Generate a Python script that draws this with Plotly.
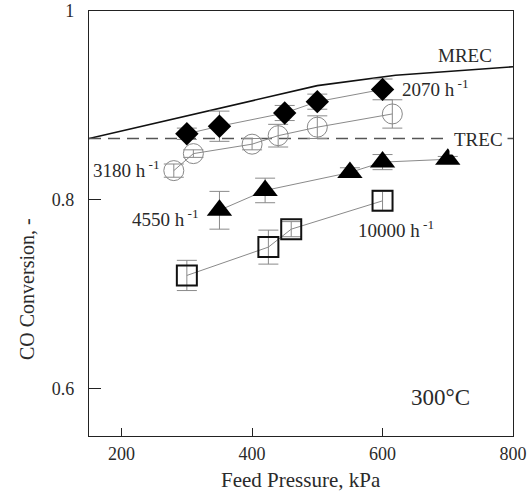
import plotly.graph_objects as go

# ---- data ----
p_2070 = [300, 350, 450, 500, 600]
x_2070 = [0.870, 0.878, 0.892, 0.904, 0.917]
e_2070 = [0.006, 0.016, 0.008, 0.008, 0.011]

p_3180 = [280, 310, 400, 440, 500, 615]
x_3180 = [0.831, 0.849, 0.859, 0.868, 0.877, 0.891]
e_3180 = [0.007, 0.004, 0.006, 0.012, 0.012, 0.015]

p_4550 = [350, 420, 550, 600, 700]
x_4550 = [0.789, 0.810, 0.829, 0.840, 0.843]
e_4550 = [0.020, 0.013, 0.005, 0.008, 0.003]

p_10000 = [300, 425, 460, 600]
x_10000 = [0.720, 0.750, 0.769, 0.799]
e_10000 = [0.016, 0.018, 0.008, 0.010]

mrec_p = [150, 500, 620, 800]
mrec_x = [0.865, 0.921, 0.932, 0.941]
trec_p = [150, 800]
trec_x = [0.865, 0.865]

x_ticks = [200, 400, 600, 800]
y_ticks = [0.6, 0.8, 1.0]
y_ticktext = ["0.6", "0.8", "1"]

FONT = "Liberation Serif, Times New Roman, serif"
GRAY = "#8a8a8a"
TXT = "#2a2a2a"

fig = go.Figure()

fig.add_trace(go.Scatter(x=mrec_p, y=mrec_x, mode="lines",
                         line=dict(color="#111", width=1.6), showlegend=False))
fig.add_trace(go.Scatter(x=trec_p, y=trec_x, mode="lines",
                         line=dict(color="#555", width=1.6, dash="12px,7px"), showlegend=False))

def series(px, py, pe, symbol, size, mcolor, lcolor, lwidth):
    fig.add_trace(go.Scatter(
        x=px, y=py, mode="lines+markers",
        line=dict(color=GRAY, width=1),
        marker=dict(symbol=symbol, size=size, color=mcolor,
                    line=dict(color=lcolor, width=lwidth)),
        error_y=dict(type="data", array=pe, visible=True, color=GRAY,
                     thickness=1, width=10),
        showlegend=False))

series(p_10000, x_10000, e_10000, "square-open", 20, "#111", "#111", 2)
series(p_4550, x_4550, e_4550, "triangle-up", 22, "#000", "#000", 0)
series(p_3180, x_3180, e_3180, "circle-open", 20, "#888", "#888", 1)
series(p_2070, x_2070, e_2070, "diamond", 18, "#000", "#000", 0)

tfont = dict(family=FONT, size=19, color=TXT)
ann = [
    dict(x=726, y=0.953, text="MREC", xanchor="center"),
    dict(x=626, y=0.9185, text="2070 h<sup> -1</sup>", xanchor="left"),
    dict(x=747, y=0.864, text="TREC", xanchor="center", bgcolor="white", borderpad=4),
    dict(x=153, y=0.833, text="3180 h<sup> -1</sup>", xanchor="left"),
    dict(x=213, y=0.781, text="4550 h<sup> -1</sup>", xanchor="left"),
    dict(x=559, y=0.7695, text="10000 h<sup> -1</sup>", xanchor="left"),
]
annotations = []
for a in ann:
    a.update(xref="x", yref="y", showarrow=False, yanchor="middle", font=tfont)
    annotations.append(a)
annotations.append(dict(x=689, y=0.591, xref="x", yref="y", text="300°C", showarrow=False,
                        xanchor="center", yanchor="middle",
                        font=dict(family=FONT, size=23, color=TXT)))
annotations.append(dict(x=0.5, y=-(480 - 436) / 425.0, xref="paper", yref="paper",
                        text="Feed Pressure, kPa",
                        showarrow=False, xanchor="center", yanchor="middle",
                        font=dict(family=FONT, size=21, color=TXT)))
annotations.append(dict(x=(27 - 89) / 424.0, y=1 - (289 - 11) / 425.0,
                        xref="paper", yref="paper", text="CO Conversion, -",
                        showarrow=False, textangle=-90, xanchor="center", yanchor="middle",
                        font=dict(family=FONT, size=20, color=TXT)))

fig.update_layout(
    width=527, height=491,
    margin=dict(l=89, r=14, t=11, b=55),
    plot_bgcolor="white", paper_bgcolor="white",
    annotations=annotations,
    xaxis=dict(range=[150, 800], tickvals=x_ticks, ticks="inside", ticklen=8,
               tickcolor="#222", showline=True, linecolor="#222", linewidth=1.2,
               mirror=True, showgrid=False, zeroline=False, automargin=False,
               tickfont=dict(family=FONT, size=18, color=TXT),
               ticklabelstandoff=1),
    yaxis=dict(range=[0.55, 1.0], tickvals=y_ticks, ticktext=y_ticktext,
               ticks="inside", ticklen=12, tickcolor="#222",
               showline=True, linecolor="#222", linewidth=1.2, mirror=True,
               showgrid=False, zeroline=False, automargin=False,
               tickfont=dict(family=FONT, size=18, color=TXT),
               ticklabelstandoff=10),
)

fig.write_html("out.html")
